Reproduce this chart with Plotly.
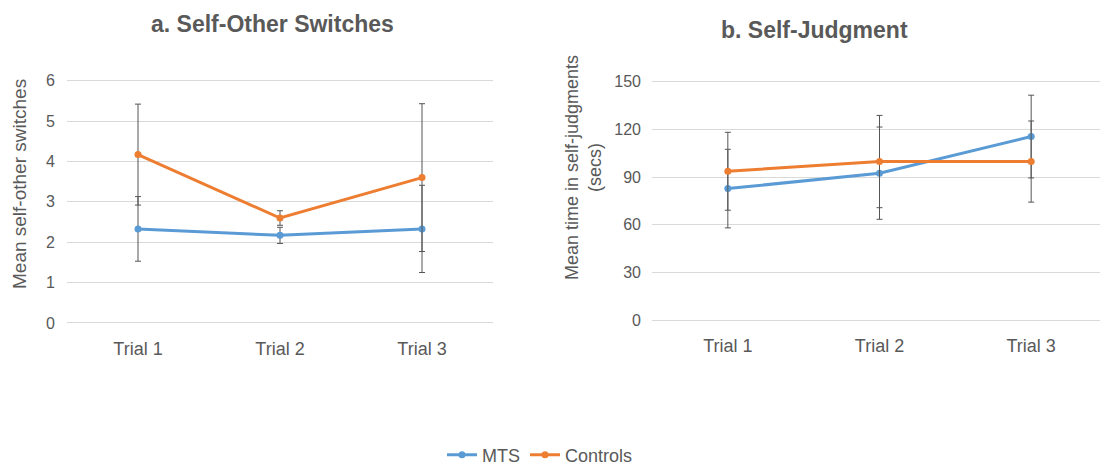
import plotly.graph_objects as go

trials = ["Trial 1", "Trial 2", "Trial 3"]

# Panel a: Self-Other Switches
a_mts = [2.33, 2.17, 2.33]
a_mts_err = [0.80, 0.20, 1.08]
a_ctl = [4.17, 2.60, 3.60]
a_ctl_err = [1.25, 0.18, 1.83]

# Panel b: Self-Judgment (secs)
b_mts = [82.8, 92.5, 115.5]
b_mts_err = [24.7, 29.0, 26.0]
b_ctl = [93.7, 99.8, 99.8]
b_ctl_err = [24.5, 29.0, 25.5]

a_ticks = [0, 1, 2, 3, 4, 5, 6]
b_ticks = [0, 30, 60, 90, 120, 150]

BLUE = "#5B9BD5"
ORANGE = "#ED7D31"
ERR = "#555555"
TXT = "#595959"
FONT = "Liberation Sans, Arial, sans-serif"

fig = go.Figure()

def add(xax, yax, y, err, name, color, show):
    fig.add_trace(go.Scatter(
        x=trials, y=y, name=name, mode="lines+markers",
        line=dict(color=color, width=3), marker=dict(color=color, size=7),
        error_y=dict(type="data", array=err, visible=True, color=ERR, thickness=1, width=3),
        xaxis=xax, yaxis=yax, showlegend=show, legendgroup=name))

add("x", "y", a_mts, a_mts_err, "MTS", BLUE, True)
add("x", "y", a_ctl, a_ctl_err, "Controls", ORANGE, True)
add("x2", "y2", b_mts, b_mts_err, "MTS", BLUE, False)
add("x2", "y2", b_ctl, b_ctl_err, "Controls", ORANGE, False)

W, H = 1108, 467
OFF = 8  # page body margin
def px(x): return (x - OFF) / W
def py(y): return 1 - (y - OFF) / H

grid = "#D9D9D9"
pad_a = 0.03
pad_b = 0.75
fig.update_layout(
    template="none",
    width=W, height=H, margin=dict(l=0, r=0, t=0, b=0, autoexpand=False),
    paper_bgcolor="white", plot_bgcolor="white",
    font=dict(family=FONT, color=TXT, size=16),
    xaxis=dict(domain=[px(67), px(493)], range=[-0.5, 2.5], showgrid=False, automargin=False,
               showline=False, zeroline=False, ticks="", tickfont=dict(size=18),
               ticklabelstandoff=12),
    yaxis=dict(domain=[py(323 + pad_a * 40.4), py(80.7 - pad_a * 40.4)], range=[-pad_a, 6 + pad_a],
               tickvals=a_ticks, automargin=False,
               showgrid=True, gridcolor=grid, gridwidth=1, zeroline=False, showline=False,
               ticks="", tickfont=dict(size=16), ticklabelstandoff=11),
    xaxis2=dict(domain=[px(652), px(1107)], range=[-0.5, 2.5], showgrid=False, automargin=False,
                showline=False, zeroline=False, ticks="", tickfont=dict(size=18), anchor="y2",
                ticklabelstandoff=12),
    yaxis2=dict(domain=[py(320.3 + pad_b * 1.59), py(81.7 - pad_b * 1.59)], range=[-pad_b, 150 + pad_b],
                tickvals=b_ticks, automargin=False,
                showgrid=True, gridcolor=grid, gridwidth=1, zeroline=False, showline=False,
                ticks="", tickfont=dict(size=16), anchor="x2", ticklabelstandoff=10),
    legend=dict(orientation="h", x=px(540), xanchor="center", y=py(455), yanchor="middle",
                font=dict(size=18), bgcolor="rgba(0,0,0,0)"),
    annotations=[
        dict(text="<b>a. Self-Other Switches</b>", x=px(272), y=py(24), xref="paper", yref="paper",
             showarrow=False, font=dict(size=23, color=TXT), xanchor="center", yanchor="middle"),
        dict(text="<b>b. Self-Judgment</b>", x=px(814), y=py(30), xref="paper", yref="paper",
             showarrow=False, font=dict(size=23, color=TXT), xanchor="center", yanchor="middle"),
        dict(text="Mean self-other switches", x=px(20), y=py(184), xref="paper", yref="paper",
             showarrow=False, textangle=-90, font=dict(size=19, color=TXT),
             xanchor="center", yanchor="middle"),
        dict(text="Mean time in self-judgments<br>(secs)", x=px(584), y=py(168), xref="paper", yref="paper",
             showarrow=False, textangle=-90, font=dict(size=18, color=TXT),
             xanchor="center", yanchor="middle"),
    ],
)

fig.write_html("out.html")
